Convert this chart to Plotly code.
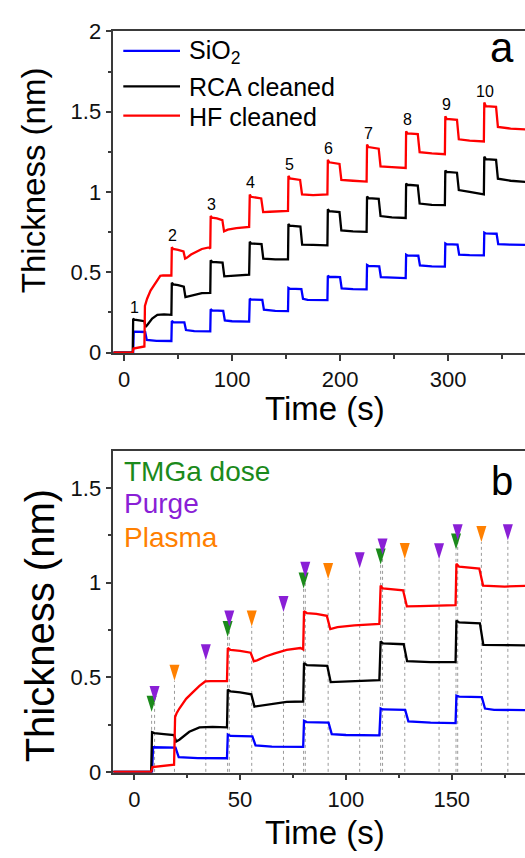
import numpy as np
import plotly.graph_objects as go

# ---------------- data ----------------
# thickness traces (knots of each in-situ SE trace), time in s, thickness in nm
sio2_t = [-10, 8.4, 8.9, 19.5, 21.0, 30, 43.8,
          44.2, 45.5, 55.8, 57.3, 65, 79.8,
          80.2, 81.5, 91.8, 93.3, 100, 115.8,
          116.4, 117.5, 128.0, 129.5, 140, 151.8,
          152.2, 153.5, 164.2, 165.7, 170, 188.3,
          188.7, 190.0, 200.0, 201.5, 212, 224.6,
          225.0, 226.3, 236.3, 237.8, 250, 260.8,
          261.2, 262.5, 272.5, 274.0, 285, 297.1,
          297.5, 298.8, 308.8, 310.3, 320, 333.2,
          333.6, 335.0, 345.0, 346.5, 358, 372]
sio2_y = [0.0, 0.0, 0.13, 0.128, 0.078, 0.073, 0.072,
          0.197, 0.19, 0.188, 0.14, 0.133, 0.132,
          0.27, 0.263, 0.26, 0.20, 0.195, 0.193,
          0.335, 0.33, 0.328, 0.267, 0.26, 0.258,
          0.403, 0.398, 0.395, 0.335, 0.328, 0.326,
          0.478, 0.472, 0.47, 0.40, 0.395, 0.394,
          0.545, 0.54, 0.537, 0.47, 0.465, 0.464,
          0.61, 0.605, 0.603, 0.543, 0.537, 0.535,
          0.68, 0.675, 0.672, 0.61, 0.607, 0.605,
          0.747, 0.742, 0.74, 0.675, 0.672, 0.67]

rca_t = [-10, 8.0, 8.4, 9.5, 14, 18.8, 19.8, 21.3, 26, 30.8, 37, 43.8,
         44.2, 45.5, 50, 55.3, 56.8, 60, 65, 72, 79.8,
         80.2, 81.5, 91.2, 92.8, 100, 115.8,
         116.4, 117.5, 127.3, 128.9, 140, 151.8,
         152.2, 153.5, 163.3, 164.9, 175, 188.3,
         188.7, 190.0, 199.5, 201.2, 212, 224.6,
         225.0, 226.3, 235.8, 237.5, 248, 260.8,
         261.2, 262.5, 272.0, 273.7, 285, 297.1,
         297.5, 298.8, 308.3, 310.0, 320, 333.2,
         333.6, 335.0, 344.5, 346.2, 358, 372]
rca_y = [0.0, 0.0, 0.21, 0.205, 0.20, 0.195, 0.16, 0.17, 0.212, 0.235, 0.238, 0.235,
         0.435, 0.425, 0.42, 0.41, 0.345, 0.35, 0.36, 0.37, 0.372,
         0.575, 0.565, 0.56, 0.475, 0.478, 0.485,
         0.69, 0.68, 0.675, 0.585, 0.58, 0.58,
         0.80, 0.79, 0.785, 0.672, 0.67, 0.668,
         0.893, 0.88, 0.875, 0.76, 0.755, 0.752,
         0.972, 0.962, 0.958, 0.85, 0.842, 0.838,
         1.053, 1.045, 1.04, 0.928, 0.92, 0.918,
         1.134, 1.125, 1.12, 1.012, 1.0, 0.985,
         1.22, 1.205, 1.2, 1.083, 1.07, 1.063]

hf_t = [-10, 8.0, 8.6, 12, 18.8, 19.3, 20, 21.3, 24.5, 27.6, 30.8, 33.5, 36, 43.8,
        44.2, 45.5, 50, 55, 56.5, 58, 62, 66, 72, 78.5, 79.8,
        80.2, 81.5, 86, 91.0, 92.6, 96, 104, 115.8,
        116.4, 117.5, 127.0, 128.8, 135, 151.8,
        152.2, 153.5, 163.0, 164.8, 175, 188.3,
        188.7, 190.0, 199.5, 201.2, 212, 224.6,
        225.0, 226.3, 235.8, 237.5, 248, 260.8,
        261.2, 262.5, 272.0, 273.7, 285, 297.1,
        297.5, 298.8, 308.3, 310.0, 320, 333.2,
        333.6, 335.0, 344.5, 346.2, 358, 372]
hf_y = [0.0, 0.0, 0.025, 0.03, 0.038, 0.29, 0.31, 0.335, 0.386, 0.42, 0.455, 0.478, 0.48, 0.48,
        0.655, 0.645, 0.64, 0.63, 0.585, 0.59, 0.61, 0.625, 0.645, 0.655, 0.648,
        0.85, 0.84, 0.835, 0.825, 0.755, 0.765, 0.775, 0.782,
        0.985, 0.97, 0.96, 0.875, 0.877, 0.882,
        1.10, 1.085, 1.075, 0.985, 0.98, 0.985,
        1.20, 1.185, 1.175, 1.075, 1.07, 1.065,
        1.295, 1.28, 1.27, 1.16, 1.155, 1.15,
        1.378, 1.365, 1.36, 1.248, 1.24, 1.235,
        1.472, 1.455, 1.45, 1.328, 1.32, 1.315,
        1.557, 1.535, 1.53, 1.405, 1.395, 1.39]

# start time of each ALD cycle (TMGa dose) and cycle numbers
cycle_start = [8.2, 44.1, 80.0, 116.4, 152.0, 188.7, 225.0, 261.2, 297.5, 333.6]
cycle_label = ["1", "2", "3", "4", "5", "6", "7", "8", "9", "10"]

# process-step markers for panel b: time (s) and marker height (nm)
dose_t = [8.2, 44.1, 80.0, 116.4, 152.0]
dose_h = [0.318, 0.713, 0.970, 1.097, 1.176]
purge1_t = [9.6, 44.9, 80.8, 117.3, 152.8]
purge1_h = [0.369, 0.769, 1.026, 1.149, 1.225]
plasma_t = [19.0, 55.5, 91.6, 127.8, 164.0]
plasma_h = [0.482, 0.769, 1.020, 1.126, 1.215]
purge2_t = [33.8, 70.5, 106.5, 144.0, 176.5]
purge2_h = [0.590, 0.846, 1.077, 1.124, 1.225]

# ---------------- styling ----------------
FONT = "Arial, Liberation Sans, sans-serif"
AX = "#3a3a3a"
C_SIO2, C_RCA, C_HF = "#0000ff", "#000000", "#ff0000"
C_DOSE, C_PURGE, C_PLASMA = "#1b8a1b", "#8a1fd6", "#ff8000"
LW = 2.3

W, H = 525, 858
# plot-area pixel boxes
X0, X1 = 113.3, 525
TOP_Y0, TOP_Y1 = 20, 351
BOT_Y0, BOT_Y1 = 452, 782.5


def ydom(p0, p1):
    return [1 - p1 / H, 1 - p0 / H]


fig = go.Figure()

series = [("SiO<sub>2</sub>", sio2_t, sio2_y, C_SIO2),
          ("RCA cleaned", rca_t, rca_y, C_RCA),
          ("HF cleaned", hf_t, hf_y, C_HF)]

for name, t, y, c in series:
    for xa, ya in (("x", "y"), ("x2", "y2")):
        fig.add_trace(go.Scatter(x=t, y=y, mode="lines", name=name, xaxis=xa, yaxis=ya,
                                 line=dict(color=c, width=LW), showlegend=False,
                                 hoverinfo="skip"))

axis_common = dict(showline=True, linecolor=AX, linewidth=1.5, ticks="outside",
                   ticklen=6, tickwidth=1.5, tickcolor=AX, showgrid=False, zeroline=False,
                   tickfont=dict(family=FONT, size=22, color="#111"))

fig.update_layout(
    width=W, height=H, margin=dict(l=0, r=0, t=0, b=0),
    paper_bgcolor="white", plot_bgcolor="white", showlegend=False,
    xaxis=dict(domain=[X0 / W, X1 / W], range=[-10, 371.3], anchor="y", mirror=True,
               dtick=100, minor=dict(dtick=50, ticks="outside", ticklen=4, tickcolor=AX),
               **axis_common),
    yaxis=dict(domain=ydom(TOP_Y0, TOP_Y1), range=[-0.004, 2.0], anchor="x",
               dtick=0.5, minor=dict(dtick=0.25, ticks="outside", ticklen=4, tickcolor=AX),
               **axis_common),
    xaxis2=dict(domain=[X0 / W, X1 / W], range=[-9.9, 184.6], anchor="y2", mirror=True,
                dtick=50, minor=dict(dtick=25, ticks="outside", ticklen=4, tickcolor=AX),
                **axis_common),
    yaxis2=dict(domain=ydom(BOT_Y0, BOT_Y1), range=[-0.004, 1.695], anchor="x2",
                dtick=0.5, minor=dict(dtick=0.25, ticks="outside", ticklen=4, tickcolor=AX),
                **axis_common),
)

ann = []
shapes = []

# axis titles
for yc, xc, fs in ((173, 33, 33), (632, 40, 40)):
    ann.append(dict(text="Thickness (nm)", x=xc / W, y=1 - yc / H, xref="paper", yref="paper",
                    textangle=-90, showarrow=False, font=dict(family=FONT, size=fs, color="black"),
                    xanchor="center", yanchor="middle"))
for yc in (408, 844):
    ann.append(dict(text="Time (s)", x=325 / W, y=1 - yc / H, xref="paper", yref="paper",
                    showarrow=False, font=dict(family=FONT, size=33, color="black"),
                    xanchor="center", yanchor="middle"))

# panel letters
ann.append(dict(text="a", x=502 / W, y=1 - 37 / H, xref="paper", yref="paper", showarrow=False,
                font=dict(family=FONT, size=42, color="black"), xanchor="center", yanchor="middle"))
ann.append(dict(text="b", x=502 / W, y=1 - 482 / H, xref="paper", yref="paper", showarrow=False,
                font=dict(family=FONT, size=40, color="black"), xanchor="center", yanchor="middle"))

# legend of panel a (line samples + text)
for (name, _, _, c), yc in zip(series, (40, 76.5, 106.7)):
    shapes.append(dict(type="line", xref="paper", yref="paper", x0=123.3 / W, x1=180 / W,
                       y0=1 - yc / H, y1=1 - yc / H, line=dict(color=c, width=LW)))
    ann.append(dict(text=name, x=186.5 / W, y=1 - (yc + 1) / H, xref="paper", yref="paper",
                    showarrow=False, xanchor="left", yanchor="middle",
                    font=dict(family=FONT, size=25, color="black")))

# cycle numbers above the highest step of each cycle
all_t = [np.asarray(s[1]) for s in series]
all_y = [np.asarray(s[2]) for s in series]
for t0, lab in zip(cycle_start, cycle_label):
    peak = max(y[(t >= t0) & (t <= t0 + 3)].max() for t, y in zip(all_t, all_y))
    ann.append(dict(text=lab, x=t0 + 1.0, y=peak, xref="x", yref="y", showarrow=False,
                    xanchor="center", yanchor="bottom", yshift=1,
                    font=dict(family=FONT, size=16, color="black")))

# legend of panel b (coloured text)
for lab, c, yc in (("TMGa dose", C_DOSE, 471.7), ("Purge", C_PURGE, 504.5), ("Plasma", C_PLASMA, 539.5)):
    ann.append(dict(text=lab, x=121.5 / W, y=1 - (yc + 1) / H, xref="paper", yref="paper",
                    showarrow=False, xanchor="left", yanchor="middle",
                    font=dict(family=FONT, size=28, color=c)))

# process-step markers: dotted drop line + downward triangle with its tip at the given height
tri = "M-5,16 L5,16 L0,0 Z"
markers = ((purge2_t, purge2_h, C_PURGE), (plasma_t, plasma_h, C_PLASMA),
           (dose_t, dose_h, C_DOSE), (purge1_t, purge1_h, C_PURGE))
for ts, hs, c in markers:
    for t, h in zip(ts, hs):
        shapes.append(dict(type="line", xref="x2", yref="y2", x0=t, x1=t, y0=0, y1=h,
                           layer="below", line=dict(color="#9a9a9a", width=1, dash="dot")))
for ts, hs, c in markers:
    for t, h in zip(ts, hs):
        shapes.append(dict(type="path", xref="x2", yref="y2", xsizemode="pixel", ysizemode="pixel",
                           xanchor=t, yanchor=h, path=tri, fillcolor=c, line=dict(width=0)))

fig.update_layout(annotations=ann, shapes=shapes)
fig.write_html("out.html")
